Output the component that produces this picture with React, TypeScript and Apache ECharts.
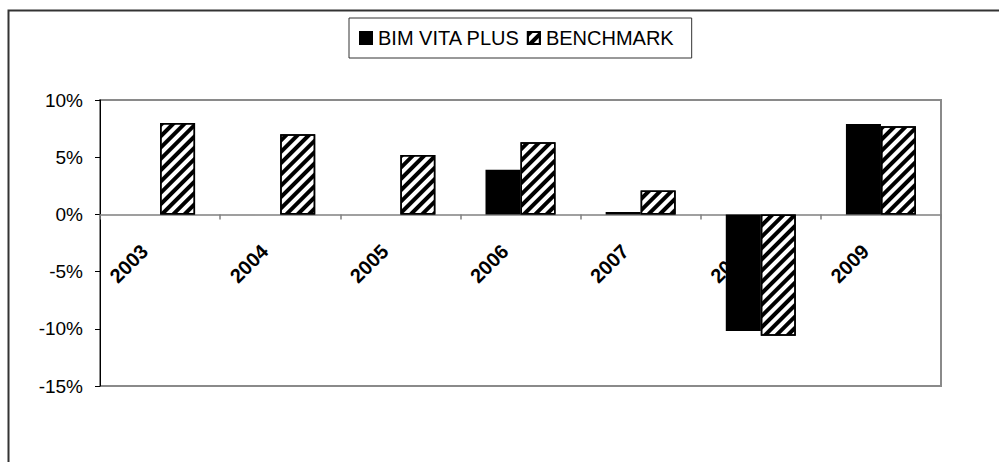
import React, { useEffect, useRef } from "react";
import * as echarts from "echarts";

const categories = ["2003", "2004", "2005", "2006", "2007", "2008", "2009"];
const bimVitaPlus = [null, null, null, 3.9, 0.2, -10.2, 7.9];
const benchmark = [8.0, 7.0, 5.2, 6.3, 2.1, -10.6, 7.7];
const seriesNames = ["BIM VITA PLUS", "BENCHMARK"];
const yMin = -15;
const yMax = 10;

export default function App() {
  const ref = useRef<HTMLDivElement>(null);
  useEffect(() => {
    if (!ref.current) return;
    const chart = echarts.init(ref.current, null, { renderer: "svg" });
    const font = "Arial, 'Liberation Sans', sans-serif";
    const gridTop = 100;
    const gridBottom = 76;
    const gridH = 462 - gridTop - gridBottom;
    const zeroFromBottom = (gridH * (0 - yMin)) / (yMax - yMin);
    chart.setOption({
      animation: false,
      backgroundColor: "#fff",
      graphic: [
        {
          type: "rect",
          shape: { x: 8.5, y: 10.5, width: 1200, height: 800 },
          style: { fill: "none", stroke: "#333", lineWidth: 2 },
          silent: true,
        },
      ],
      legend: {
        data: seriesNames,
        left: 349,
        top: 18,
        padding: [10, 18, 10, 10],
        borderColor: "#333",
        borderWidth: 1,
        itemWidth: 12,
        itemHeight: 12,
        itemGap: 7,
        icon: "rect",
        formatter: (name: string) =>
          name === seriesNames[0] ? `{a|${name}}` : `{b|${name}}`,
        textStyle: {
          fontFamily: font,
          fontSize: 20,
          color: "#000",
          rich: {
            a: { fontFamily: font, fontSize: 20, color: "#000", width: 152, padding: [0, 0, 0, 1] },
            b: { fontFamily: font, fontSize: 20, color: "#000", width: 120, padding: [0, 0, 0, 1] },
          },
        },
      },
      grid: {
        left: 100,
        right: 58,
        top: gridTop,
        bottom: gridBottom,
        show: true,
        borderColor: "#8a8a8a",
        borderWidth: 2,
        backgroundColor: "transparent",
      },
      xAxis: {
        type: "category",
        data: categories,
        position: "bottom",
        offset: -zeroFromBottom,
        axisLine: { onZero: false, lineStyle: { color: "#808080", width: 1.5 } },
        axisTick: { show: true, length: 5, lineStyle: { color: "#808080", width: 1.5 } },
        axisLabel: {
          rotate: 45,
          margin: 18,
          padding: [0, 22, 0, 0],
          fontFamily: font,
          fontWeight: "bold",
          fontSize: 20,
          color: "#000",
          interval: 0,
        },
        splitLine: { show: false },
      },
      yAxis: {
        type: "value",
        min: yMin,
        max: yMax,
        interval: 5,
        axisLine: { show: true, lineStyle: { color: "#000", width: 1 } },
        axisTick: { show: true, length: 5, lineStyle: { color: "#000" } },
        axisLabel: {
          margin: 17,
          fontFamily: font,
          fontSize: 19,
          color: "#000",
          formatter: (v: number) => `${v}%`,
        },
        splitLine: { show: false },
      },
      series: [
        {
          name: seriesNames[0],
          type: "bar",
          data: bimVitaPlus,
          barWidth: 35,
          barGap: "0%",
          itemStyle: { color: "#000", borderColor: "#000", borderWidth: 1.5 },
        },
        {
          name: seriesNames[1],
          type: "bar",
          data: benchmark,
          barWidth: 35,
          barGap: "0%",
          itemStyle: {
            color: "#fff",
            borderColor: "#000",
            borderWidth: 1.5,
            decal: {
              symbol: "rect",
              symbolSize: 1,
              dashArrayX: [1, 0],
              dashArrayY: [4, 4],
              rotation: -Math.PI / 4,
              color: "#000",
              backgroundColor: "#fff",
            },
          },
        },
      ],
    });
    return () => chart.dispose();
  }, []);
  return (
    <div
      ref={ref}
      style={{ position: "fixed", left: 0, top: 0, width: 999, height: 462 }}
    />
  );
}
